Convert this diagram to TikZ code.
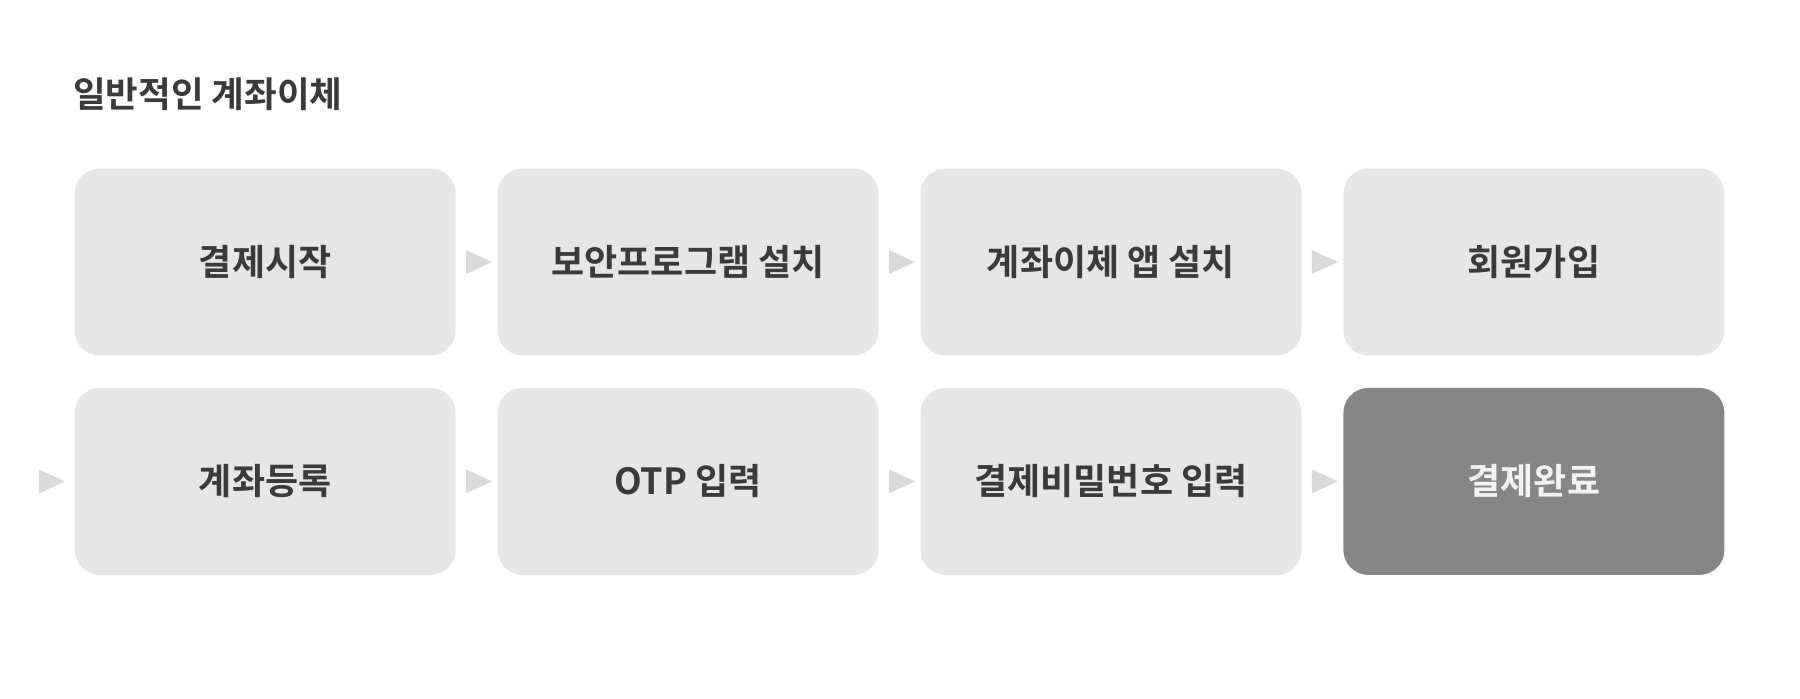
\documentclass[tikz,border=0pt]{standalone}
\usepackage{fontspec}
\setmainfont{Noto Sans CJK KR}[BoldFont={Noto Sans CJK KR Bold}]
\usetikzlibrary{positioning,shapes.geometric}

\definecolor{boxgray}{HTML}{E6E6E6}
\definecolor{donegray}{HTML}{868686}
\definecolor{arrowgray}{HTML}{DADADA}
\definecolor{textdark}{HTML}{3A3A3A}
\definecolor{donetext}{HTML}{F2F2F2}

\newcommand{\boxfont}{\bfseries\fontsize{36}{42}\selectfont}
\newcommand{\titlefont}{\bfseries\fontsize{35.5}{42}\selectfont}

\tikzset{
  stepbox/.style={rectangle, rounded corners=25pt, fill=boxgray, text=textdark,
    minimum width=381pt, minimum height=187pt, inner sep=0pt, font=\boxfont},
  donebox/.style={stepbox, fill=donegray, text=donetext},
  pointer/.style={isosceles triangle, isosceles triangle stretches, fill=arrowgray,
    inner sep=0pt, minimum width=24pt, minimum height=26pt}
}

\begin{document}
\begin{tikzpicture}[x=1pt,y=1pt]
\useasboundingbox (0,0) rectangle (1800,-699);

\node[anchor=base west, text=textdark, font=\titlefont, inner sep=0pt] (title) at (73,-107.5) {일반적인 계좌이체};

% first row
\node[stepbox] (b1) at (265.2,-262) {결제시작};
\node[stepbox, right=41.5pt of b1] (b2) {보안프로그램 설치};
\node[stepbox, right=41.5pt of b2] (b3) {계좌이체 앱 설치};
\node[stepbox, right=41.5pt of b3] (b4) {회원가입};

% second row
\node[stepbox, below=32pt of b1] (b5) {계좌등록};
\node[stepbox, right=41.5pt of b5] (b6) {OTP 입력};
\node[stepbox, right=41.5pt of b6] (b7) {결제비밀번호 입력};
\node[donebox, right=41.5pt of b7] (b8) {결제완료};

% pointers between the steps
\node[pointer, right=10pt of b1] (a12) {};
\node[pointer, right=10pt of b2] (a23) {};
\node[pointer, right=10pt of b3] (a34) {};
\node[pointer, left=9pt of b5] (a45) {};
\node[pointer, right=10pt of b5] (a56) {};
\node[pointer, right=10pt of b6] (a67) {};
\node[pointer, right=10pt of b7] (a78) {};
\end{tikzpicture}
\end{document}
